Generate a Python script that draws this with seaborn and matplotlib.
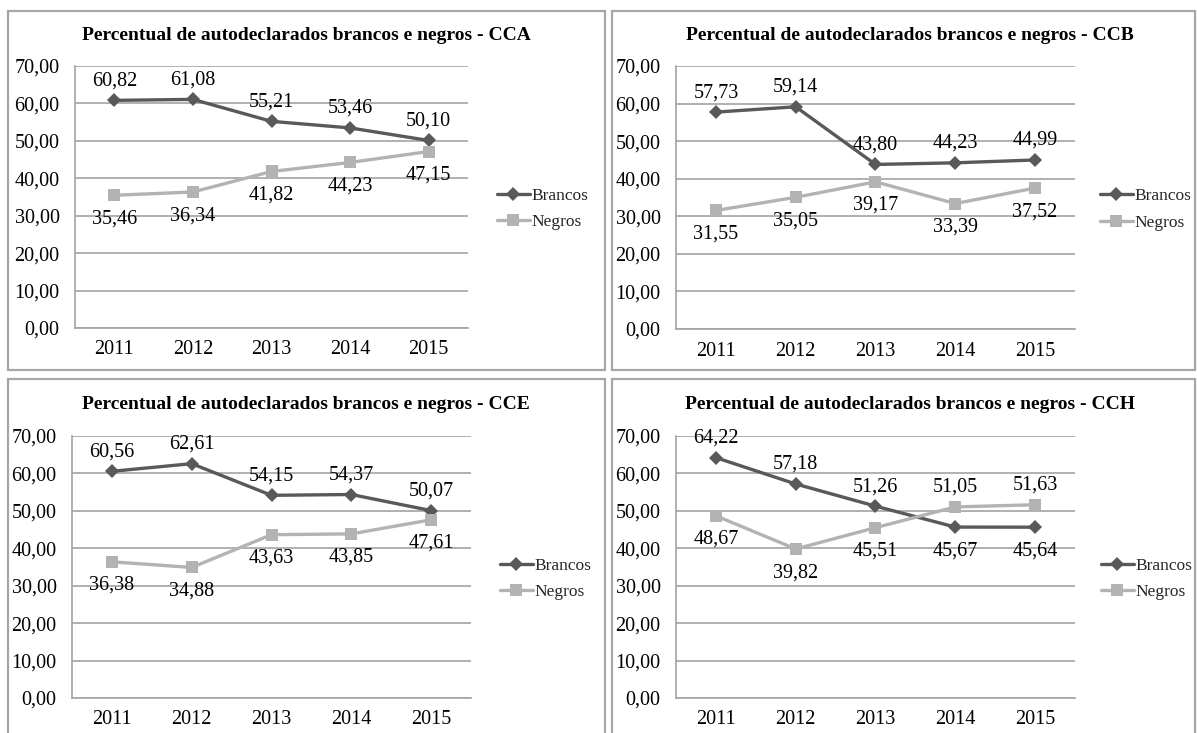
import matplotlib
matplotlib.use("Agg")
import matplotlib.pyplot as plt
import seaborn as sns
import pandas as pd
from matplotlib.patches import Rectangle
from matplotlib.ticker import FixedLocator, FuncFormatter

years = ["2011", "2012", "2013", "2014", "2015"]
series_names = ["Brancos", "Negros"]

cca_brancos = [60.82, 61.08, 55.21, 53.46, 50.10]
cca_negros = [35.46, 36.34, 41.82, 44.23, 47.15]
ccb_brancos = [57.73, 59.14, 43.80, 44.23, 44.99]
ccb_negros = [31.55, 35.05, 39.17, 33.39, 37.52]
cce_brancos = [60.56, 62.61, 54.15, 54.37, 50.07]
cce_negros = [36.38, 34.88, 43.63, 43.85, 47.61]
cch_brancos = [64.22, 57.18, 51.26, 45.67, 45.64]
cch_negros = [48.67, 39.82, 45.51, 51.05, 51.63]

titles = [
    "Percentual de autodeclarados brancos e negros - CCA",
    "Percentual de autodeclarados brancos e negros - CCB",
    "Percentual de autodeclarados brancos e negros - CCE",
    "Percentual de autodeclarados brancos e negros - CCH",
]
y_ticks = [0, 10, 20, 30, 40, 50, 60, 70]

# label placement (above / below) per point
place_default_b = ["up"] * 5
place_default_n = ["down"] * 5
place_cch_b = ["up", "up", "up", "down", "down"]
place_cch_n = ["down", "down", "down", "up", "up"]

panels = [
    (cca_brancos, cca_negros, place_default_b, place_default_n),
    (ccb_brancos, ccb_negros, place_default_b, place_default_n),
    (cce_brancos, cce_negros, place_default_b, place_default_n),
    (cch_brancos, cch_negros, place_cch_b, place_cch_n),
]

sns.set_theme(style="white")
plt.rcParams["font.family"] = ["Liberation Serif", "DejaVu Serif"]

W, H = 1197, 733
fig = plt.figure(figsize=(W / 100, H / 100), dpi=100)

def fx(px):
    return px / W

def fy(py):
    return 1 - py / H

# box rects (left, top, right, bottom) in px
boxes = [(8, 11, 605, 370), (612, 11, 1195, 370), (8, 379, 605, 740), (612, 379, 1195, 740)]
# axes rects (left, top, right, bottom) in px
axes_px = [(75, 66, 468, 328), (676, 66, 1075, 329), (72, 436, 471, 698), (676, 436, 1075, 698)]
legend_gap = [29, 25, 29, 26]

grid_col = "#a3a3a3"
col_b = "#595959"
col_n = "#b3b3b3"
fs = 14.5

for i, (bvals, nvals, pb, pn) in enumerate(panels):
    l, t, r, b = boxes[i]
    fig.patches.append(Rectangle((fx(l), fy(b)), fx(r - l), (b - t) / H,
                                 transform=fig.transFigure, fill=False,
                                 edgecolor="#a6a6a6", linewidth=1.6, zorder=0))
    al, at, ar, ab = axes_px[i]
    ax = fig.add_axes([fx(al), fy(ab), fx(ar - al), (ab - at) / H])

    df = pd.DataFrame({
        "Ano": years * 2,
        "Valor": list(bvals) + list(nvals),
        "Serie": [series_names[0]] * 5 + [series_names[1]] * 5,
    })
    sns.lineplot(data=df, x="Ano", y="Valor", hue="Serie", style="Serie",
                 palette={"Brancos": col_b, "Negros": col_n},
                 markers={"Brancos": "D", "Negros": "s"}, dashes=False,
                 linewidth=2.4, markersize=8, markeredgewidth=0,
                 ax=ax, zorder=3, sort=False)
    for ln in ax.lines:
        if ln.get_marker() == "D":
            ln.set_markersize(6.8)

    ax.set_xlim(-0.5, 4.5)
    ax.set_ylim(0, 70)
    ax.yaxis.set_major_locator(FixedLocator(y_ticks))
    ax.yaxis.set_major_formatter(FuncFormatter(lambda v, p: f"{v:.2f}".replace(".", ",")))
    ax.set_xticks(range(5))
    ax.set_xticklabels(years)
    ax.set_xticks([k - 0.5 for k in range(6)], minor=True)
    ax.tick_params(axis="x", which="major", length=0, labelsize=fs, pad=9, colors="black")
    ax.tick_params(axis="x", which="minor", length=4.5, width=1.2, color=grid_col)
    ax.tick_params(axis="y", which="major", length=6, width=1.2, color=grid_col,
                   labelsize=fs, pad=5, labelcolor="black")
    ax.yaxis.grid(True, color=grid_col, linewidth=1.2)
    ax.xaxis.grid(False)
    ax.set_axisbelow(True)
    for side in ["top", "right"]:
        ax.spines[side].set_visible(False)
    for side in ["left", "bottom"]:
        ax.spines[side].set_color(grid_col)
        ax.spines[side].set_linewidth(1.2)
    ax.set_xlabel("")
    ax.set_ylabel("")
    ax.set_facecolor("none")

    for vals, places in ((bvals, pb), (nvals, pn)):
        for k, (v, p) in enumerate(zip(vals, places)):
            off = 14 if p == "up" else -17
            ax.annotate(f"{v:.2f}".replace(".", ","), (k, v), xytext=(0, off),
                        textcoords="offset points", ha="center", va="center",
                        fontsize=fs, color="black", zorder=5)

    handles, labels = ax.get_legend_handles_labels()
    for h in handles:
        if h.get_marker() == "D":
            h.set_markersize(6.8)
    leg_y = ((at + ab) / 2 + 12)
    ax.legend(handles, labels, loc="center left",
              bbox_to_anchor=(fx(ar + legend_gap[i]), fy(leg_y)), bbox_transform=fig.transFigure,
              frameon=False, fontsize=12.5, handlelength=1.9, handletextpad=0.1,
              labelspacing=0.6, borderpad=0, borderaxespad=0)

    fig.text(fx(l + 298), fy(t + 25), titles[i], ha="center", va="center",
             fontsize=14, fontweight="bold", color="black")

fig.savefig("out.png", dpi=100, facecolor="white")
